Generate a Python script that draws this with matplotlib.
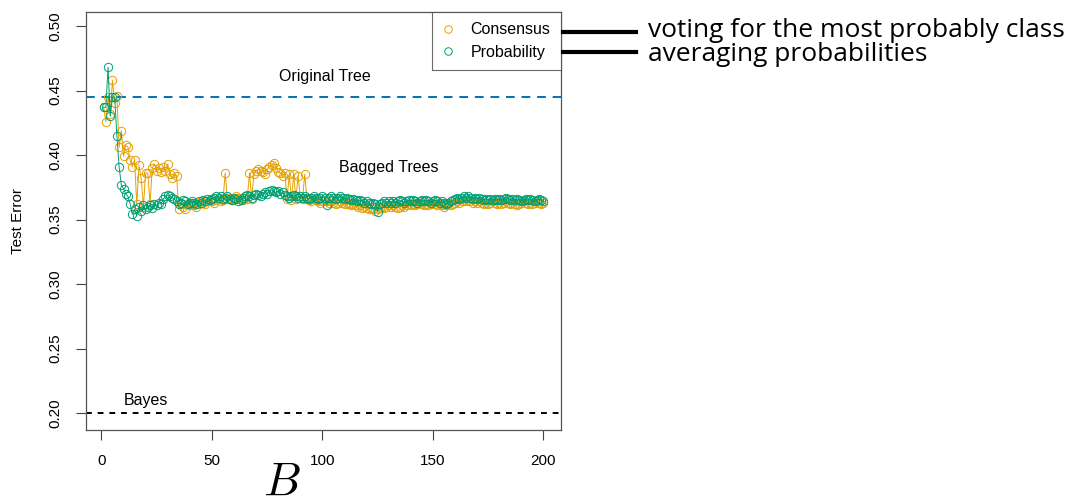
import matplotlib.pyplot as plt
import numpy as np

ORANGE, GREEN, BLUE = "#E69F00", "#009E73", "#0072B2"
plt.rcParams.update({"font.family": "Liberation Sans", "font.size": 10,
                     "mathtext.fontset": "cm"})

n_trees = np.arange(1, 201)
consensus = [
    0.437, 0.426, 0.445, 0.432, 0.458, 0.440, 0.446, 0.406, 0.419, 0.399,
    0.408, 0.406, 0.396, 0.391, 0.396, 0.362, 0.392, 0.382, 0.360, 0.386,
    0.386, 0.362, 0.390, 0.393, 0.388, 0.390, 0.387, 0.391, 0.388, 0.393,
    0.385, 0.382, 0.386, 0.384, 0.358, 0.362, 0.360, 0.358, 0.362, 0.361,
    0.363, 0.361, 0.360, 0.362, 0.364, 0.363, 0.362, 0.364, 0.365, 0.364,
    0.363, 0.365, 0.366, 0.364, 0.365, 0.386, 0.366, 0.367, 0.365, 0.366,
    0.368, 0.367, 0.366, 0.365, 0.367, 0.366, 0.386, 0.366, 0.385, 0.388,
    0.389, 0.388, 0.387, 0.385, 0.389, 0.391, 0.392, 0.394, 0.390, 0.387,
    0.386, 0.384, 0.386, 0.366, 0.385, 0.365, 0.385, 0.366, 0.384, 0.367,
    0.366, 0.385, 0.366, 0.365, 0.364, 0.366, 0.365, 0.364, 0.363, 0.364,
    0.365, 0.364, 0.363, 0.364, 0.363, 0.362, 0.363, 0.364, 0.363, 0.362,
    0.363, 0.362, 0.361, 0.362, 0.361, 0.360, 0.361, 0.359, 0.360, 0.359,
    0.358, 0.359, 0.358, 0.357, 0.358, 0.359, 0.360, 0.359, 0.360, 0.361,
    0.360, 0.361, 0.360, 0.359, 0.360, 0.361, 0.360, 0.361, 0.362, 0.361,
    0.362, 0.361, 0.362, 0.363, 0.362, 0.361, 0.362, 0.361, 0.362, 0.363,
    0.362, 0.361, 0.362, 0.361, 0.360, 0.361, 0.362, 0.361, 0.362, 0.363,
    0.364, 0.363, 0.364, 0.365, 0.364, 0.365, 0.364, 0.363, 0.364, 0.363,
    0.364, 0.363, 0.362, 0.363, 0.362, 0.363, 0.364, 0.363, 0.362, 0.363,
    0.362, 0.363, 0.364, 0.363, 0.362, 0.363, 0.362, 0.361, 0.362, 0.363,
    0.364, 0.363, 0.362, 0.363, 0.362, 0.363, 0.364, 0.363, 0.362, 0.363,
]
probability = [
    0.437, 0.437, 0.468, 0.430, 0.445, 0.445, 0.415, 0.391, 0.377, 0.374,
    0.370, 0.368, 0.362, 0.354, 0.358, 0.353, 0.360, 0.357, 0.361, 0.358,
    0.360, 0.361, 0.359, 0.362, 0.361, 0.363, 0.362, 0.366, 0.368, 0.369,
    0.368, 0.367, 0.366, 0.364, 0.362, 0.363, 0.365, 0.364, 0.362, 0.363,
    0.364, 0.363, 0.362, 0.364, 0.363, 0.365, 0.364, 0.366, 0.365, 0.366,
    0.367, 0.368, 0.367, 0.368, 0.366, 0.367, 0.368, 0.366, 0.365, 0.367,
    0.366, 0.364, 0.365, 0.367, 0.368, 0.369, 0.368, 0.367, 0.369, 0.370,
    0.369, 0.368, 0.370, 0.371, 0.370, 0.372, 0.373, 0.372, 0.371, 0.372,
    0.370, 0.371, 0.369, 0.368, 0.367, 0.368, 0.369, 0.368, 0.367, 0.368,
    0.367, 0.368, 0.367, 0.366, 0.367, 0.368, 0.367, 0.366, 0.367, 0.368,
    0.367, 0.361, 0.367, 0.368, 0.367, 0.366, 0.367, 0.368, 0.367, 0.366,
    0.367, 0.366, 0.365, 0.366, 0.365, 0.364, 0.365, 0.364, 0.363, 0.364,
    0.363, 0.362, 0.363, 0.362, 0.356, 0.362, 0.363, 0.364, 0.363, 0.364,
    0.363, 0.364, 0.363, 0.364, 0.365, 0.364, 0.363, 0.364, 0.365, 0.364,
    0.365, 0.364, 0.363, 0.364, 0.365, 0.364, 0.365, 0.364, 0.363, 0.364,
    0.365, 0.364, 0.363, 0.364, 0.363, 0.362, 0.363, 0.364, 0.365, 0.366,
    0.367, 0.366, 0.367, 0.368, 0.367, 0.368, 0.367, 0.366, 0.367, 0.366,
    0.367, 0.366, 0.365, 0.366, 0.365, 0.366, 0.365, 0.366, 0.365, 0.366,
    0.365, 0.366, 0.367, 0.366, 0.365, 0.366, 0.365, 0.366, 0.365, 0.364,
    0.365, 0.366, 0.365, 0.366, 0.365, 0.364, 0.365, 0.366, 0.365, 0.364,
]
original_tree, bayes = 0.445, 0.200

fig = plt.figure(figsize=(10.7, 5.03), dpi=100)
ax = fig.add_axes([0.0804, 0.1451, 0.4439, 0.831])

ax.axhline(original_tree, color=BLUE, lw=1.4, ls=(0, (4.5, 3.5)))
ax.axhline(bayes, color="black", lw=1.4, ls=(0, (3, 3)))
ax.plot(n_trees, consensus, color=ORANGE, lw=0.7, marker="o", ms=6,
        mfc="none", mew=0.7, label="Consensus")
ax.plot(n_trees, probability, color=GREEN, lw=0.7, marker="o", ms=6,
        mfc="none", mew=0.7, label="Probability")

ax.text(101, 0.461, "Original Tree", ha="center", va="center", fontsize=11.5)
ax.text(130, 0.3905, "Bagged Trees", ha="center", va="center", fontsize=11.5)
ax.text(20, 0.210, "Bayes", ha="center", va="center", fontsize=11.5)

ax.set_xlim(-6.96, 207.96)
ax.set_ylim(0.1868, 0.5109)
ax.set_xticks([0, 50, 100, 150, 200])
ax.set_yticks([0.20, 0.25, 0.30, 0.35, 0.40, 0.45, 0.50])
ax.set_yticklabels([f"{v:.2f}" for v in ax.get_yticks()], rotation=90, va="center")
ax.tick_params(length=7, width=0.8, pad=10, labelsize=11, color="#444444")
for s in ax.spines.values():
    s.set_color("#555555")
    s.set_linewidth(0.9)
ax.set_ylabel("Test Error", fontsize=11, labelpad=17)

leg = ax.legend(loc="upper right", borderaxespad=0, fancybox=False,
                edgecolor="#444444", fontsize=11.5, markerscale=0.9,
                handlelength=0.8, handletextpad=1.0, borderpad=0.65,
                labelspacing=0.45)
for h in leg.legend_handles:
    h.set_linestyle("none")
leg.get_frame().set_linewidth(0.8)

fig.text(282 / 1070, 1 - 495 / 503, "$B$", ha="center", va="baseline",
         fontsize=34)

# annotations on the right
for y in (32, 52):
    fig.add_artist(plt.Line2D([563 / 1070, 636 / 1070], [1 - y / 503] * 2,
                              color="black", lw=3))
fig.text(648 / 1070, 1 - 37 / 503, "voting for the most probably class",
         fontsize=19, family="Open Sans", va="baseline")
fig.text(648 / 1070, 1 - 61 / 503, "averaging probabilities",
         fontsize=19, family="Open Sans", va="baseline")

fig.savefig("out.png", dpi=100)
